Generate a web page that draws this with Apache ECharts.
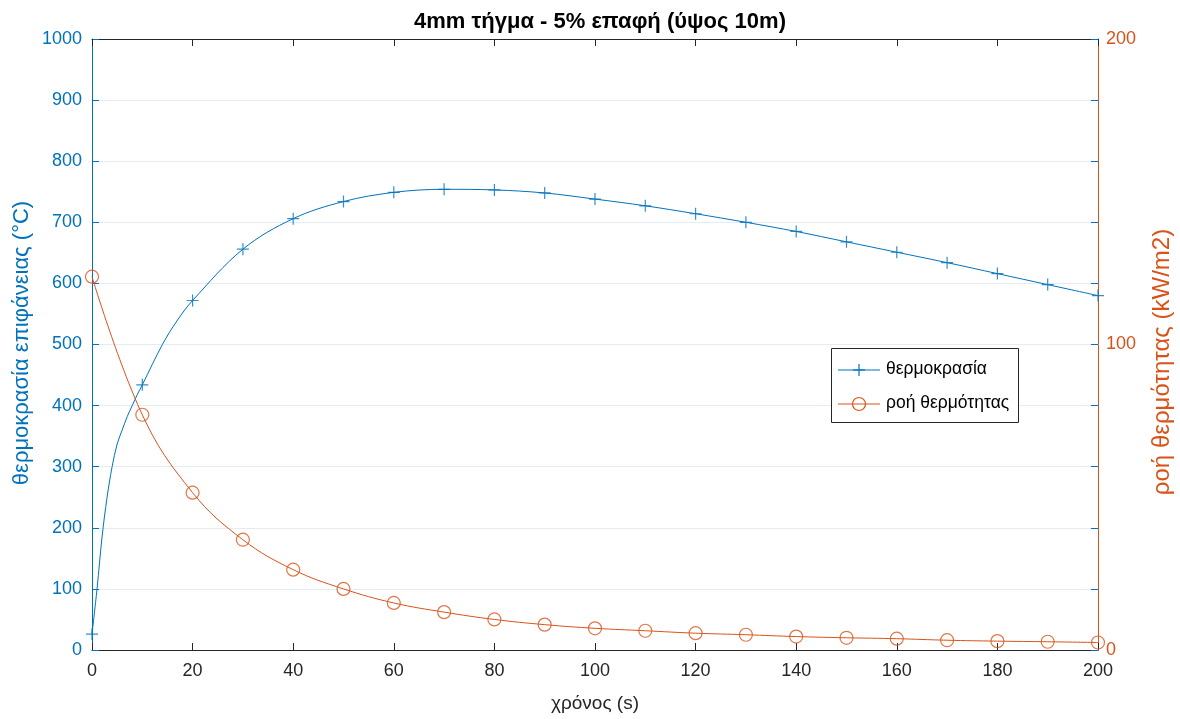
<!DOCTYPE html>
<html>
<head>
<meta charset="utf-8">
<script src="https://cdn.jsdelivr.net/npm/echarts@6/dist/echarts.min.js"></script>
<style>html,body{margin:0;padding:0;background:#fff}#c{width:1180px;height:719px}</style>
</head>
<body>
<div id="c"></div>
<script>
// ---- data ----
const titleText = '4mm τήγμα - 5% επαφή (ύψος 10m)';
const xName = 'χρόνος (s)';
const yLeftName = 'θερμοκρασία επιφάνειας (°C)';
const yRightName = 'ροή θερμότητας (kW/m2)';
const tempName = 'θερμοκρασία';
const fluxName = 'ροή θερμότητας';

// dense temperature curve (s, °C)
const tempTime = [0,1,2,3,4,5,6,7,8,9,10,14,17,20,30,40,50,60,70,80,90,100,110,120,130,140,150,160,170,180,190,200];
const tempCurve = [26,100,185,250,300,337,360,382,400,418,434,500,540,572,656,706,734,749,754,753,748,738,727,714,700,685,668,651,634,616,598,580];

// marker samples every 10 s
const markTime = [0,10,20,30,40,50,60,70,80,90,100,110,120,130,140,150,160,170,180,190,200];
const tempMarks = [26,434,572,656,706,734,749,754,753,748,738,727,714,700,685,668,651,634,616,598,580];
const fluxMarks = [122.2,77,51.5,36.1,26.3,20.0,15.4,12.4,10.0,8.3,7.1,6.3,5.5,5.0,4.4,4.0,3.7,3.2,2.9,2.7,2.45];

const xTicks = {min:0, max:200, interval:20};
const yLeftTicks = {min:0, max:1000, interval:100};
const yRightTicks = {min:0, max:200, interval:100};

// ---- chart ----
const BLUE = '#0072BD', ORANGE = '#D95319', DARK = '#262626';
const FONT = '"Liberation Sans", Arial, Helvetica, sans-serif';
const pair = (xs, ys) => xs.map((x, i) => [x, ys[i]]);
const plusPath = 'path://M0,-6L0,6M-6,0L6,0';

const chart = echarts.init(document.getElementById('c'), null, {renderer:'canvas'});
const G = {left:92, right:82, top:39, bottom:69, containLabel:false, outerBoundsMode:'none'};

chart.setOption({
  backgroundColor:'#fff',
  animation:false,
  title:{text:titleText, left:595, textAlign:'center', top:6,
    textStyle:{fontFamily:FONT, fontSize:22, fontWeight:'bold', color:'#000'}},
  grid:[Object.assign({}, G), Object.assign({}, G)],
  xAxis:[{
    gridIndex:0, type:'value', min:xTicks.min, max:xTicks.max, interval:xTicks.interval,
    name:xName, nameLocation:'middle', nameGap:44,
    nameTextStyle:{fontFamily:FONT, fontSize:19, color:DARK},
    axisLine:{show:true, onZero:false, lineStyle:{color:DARK, width:1}},
    axisTick:{show:true, inside:true, length:7, lineStyle:{color:DARK}},
    axisLabel:{fontFamily:FONT, fontSize:18, color:DARK, margin:12},
    splitLine:{show:false}
  },{
    gridIndex:0, type:'value', position:'top', min:xTicks.min, max:xTicks.max, interval:xTicks.interval,
    axisLine:{show:true, onZero:false, lineStyle:{color:DARK, width:1}},
    axisTick:{show:true, inside:true, length:7, lineStyle:{color:DARK}},
    axisLabel:{show:false}, splitLine:{show:false}
  },{
    gridIndex:1, type:'value', min:xTicks.min, max:xTicks.max, show:false,
    axisLine:{show:false, onZero:false}
  }],
  yAxis:[{
    gridIndex:0, type:'value', position:'left', min:yLeftTicks.min, max:yLeftTicks.max, interval:yLeftTicks.interval,
    axisLine:{show:true, onZero:false, lineStyle:{color:BLUE, width:1}},
    axisTick:{show:true, inside:true, length:7, lineStyle:{color:BLUE}},
    axisLabel:{fontFamily:FONT, fontSize:18, color:BLUE, margin:10, formatter:v => String(v)},
    splitLine:{show:true, lineStyle:{color:'#E3ECF5', width:1}}
  },{
    gridIndex:0, type:'value', position:'right', min:yRightTicks.min, max:yRightTicks.max, interval:yRightTicks.interval,
    axisLine:{show:true, onZero:false, lineStyle:{color:ORANGE, width:1}},
    axisTick:{show:true, inside:true, length:7, lineStyle:{color:ORANGE}},
    axisLabel:{fontFamily:FONT, fontSize:18, color:ORANGE, margin:8},
    splitLine:{show:false}
  },{
    gridIndex:1, type:'value', position:'right', min:yLeftTicks.min, max:yLeftTicks.max, interval:yLeftTicks.interval,
    axisLine:{show:false, onZero:false},
    axisTick:{show:true, inside:true, length:7, lineStyle:{color:BLUE}},
    axisLabel:{show:false}, splitLine:{show:false}
  }],
  series:[{
    name:tempName, type:'line', xAxisIndex:0, yAxisIndex:0,
    data:pair(tempTime, tempCurve), smooth:0.35, symbol:'none',
    lineStyle:{color:BLUE, width:1}, z:3
  },{
    name:tempName+'_m', type:'scatter', xAxisIndex:0, yAxisIndex:0,
    data:pair(markTime, tempMarks), symbol:plusPath, symbolSize:12, clip:false,
    itemStyle:{color:'rgba(0,0,0,0)', borderColor:BLUE, borderWidth:1.2}, z:4
  },{
    name:fluxName, type:'line', xAxisIndex:0, yAxisIndex:1,
    data:pair(markTime, fluxMarks), smooth:0.4, symbol:'none',
    lineStyle:{color:ORANGE, width:1}, z:5
  },{
    name:fluxName+'_m', type:'scatter', xAxisIndex:0, yAxisIndex:1,
    data:pair(markTime, fluxMarks), symbol:'circle', symbolSize:13, clip:false,
    itemStyle:{color:'rgba(0,0,0,0)', borderColor:ORANGE, borderWidth:1.2}, z:6
  }],
  graphic:[
    {type:'text', x:22, y:343, rotation:Math.PI/2,
      style:{text:yLeftName, fontFamily:FONT, fontSize:22, fill:BLUE, align:'center', verticalAlign:'middle'}},
    {type:'text', x:1162, y:362, rotation:Math.PI/2,
      style:{text:yRightName, fontFamily:FONT, fontSize:24, fill:ORANGE, align:'center', verticalAlign:'middle'}},
    {type:'rect', shape:{x:831.5, y:348.5, width:187, height:74}, style:{fill:'#fff', stroke:DARK, lineWidth:1}, z:100},
    {type:'line', shape:{x1:838, y1:370, x2:880, y2:370}, style:{stroke:BLUE, lineWidth:1}, z:101},
    {type:'line', shape:{x1:859, y1:364, x2:859, y2:376}, style:{stroke:BLUE, lineWidth:1.2}, z:101},
    {type:'line', shape:{x1:853, y1:370, x2:865, y2:370}, style:{stroke:BLUE, lineWidth:1.2}, z:101},
    {type:'text', left:886, top:360, style:{text:tempName, fontFamily:FONT, fontSize:17.5, fill:'#000'}, z:101},
    {type:'line', shape:{x1:838, y1:404, x2:880, y2:404}, style:{stroke:ORANGE, lineWidth:1}, z:101},
    {type:'circle', shape:{cx:859, cy:404, r:6.5}, style:{fill:'rgba(0,0,0,0)', stroke:ORANGE, lineWidth:1.2}, z:101},
    {type:'text', left:886, top:394, style:{text:fluxName, fontFamily:FONT, fontSize:17.5, fill:'#000'}, z:101}
  ]
});
</script>
</body>
</html>
